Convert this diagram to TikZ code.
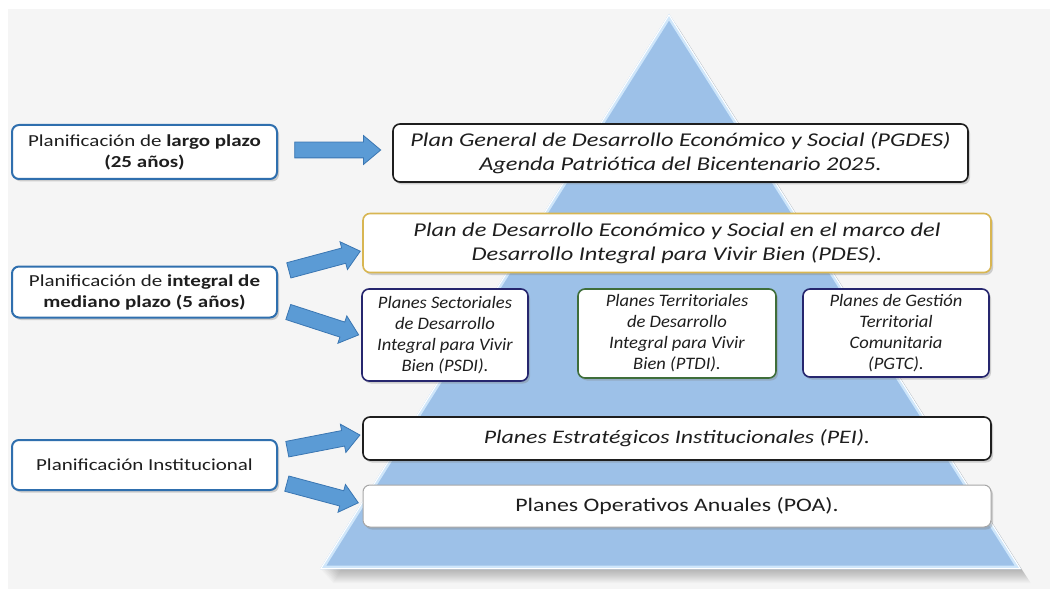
\documentclass[tikz,border=0pt]{standalone}
\usepackage{fontspec}
\setmainfont{Carlito}[FakeStretch=1.25]
\newfontfamily\smallfont{Carlito}[FakeStretch=1.06]
\usetikzlibrary{shapes.arrows,shadows,calc}
\definecolor{bg}{HTML}{F5F5F5}
\definecolor{tri}{HTML}{9DC1E8}
\definecolor{trilight}{HTML}{CFE6FA}
\definecolor{arrowfill}{HTML}{5B9BD5}
\definecolor{arrowline}{HTML}{3A76B2}
\definecolor{leftline}{HTML}{2F6FAE}
\definecolor{gold}{HTML}{D8B652}
\definecolor{navy}{HTML}{26266E}
\definecolor{grn}{HTML}{3F6E3A}
\definecolor{txt}{HTML}{1E1E1E}
\begin{document}
\begin{tikzpicture}[x=1pt,y=-1pt,
  box/.style={draw, rounded corners=7pt, fill=white, line width=1.6pt, align=center,
    inner sep=0pt, text=txt,
    drop shadow={shadow xshift=2pt, shadow yshift=-2.5pt, opacity=0.35}},
  leftbox/.style={box, draw=leftline, line width=2pt, minimum width=265pt,
    font=\fontsize{16.8}{21}\selectfont},
  bigbox/.style={box, font=\fontsize{19.5}{24}\selectfont\itshape},
  smallbox/.style={box, font=\smallfont\fontsize{17.5}{21}\selectfont\itshape},
  blockarrow/.style={single arrow, draw=arrowline, fill=arrowfill, line width=0.8pt,
    inner sep=7.5pt, single arrow head extend=6.5pt, single arrow tip angle=80,
    single arrow head indent=0pt}
]
\useasboundingbox (0,0) rectangle (1050,591);
\fill[white] (0,0) rectangle (1050,591);
\fill[bg] (8,9) rectangle (1050,589);

% pyramid shadow (soft)
\foreach \k in {1,...,14}
  \fill[black, opacity=0.018] (669+\k*0.7,14+\k) -- (1021+\k*0.7,569+\k) -- (320+\k*0.9,569+\k) -- cycle;
% pyramid
\fill[tri] (669,14) -- (1021,569) -- (320,569) -- cycle;
\begin{scope}
  \clip (669,14) -- (1021,569) -- (320,569) -- cycle;
  \draw[trilight, line width=7pt, line join=round] (669,14) -- (1021,569) -- (320,569) -- cycle;
  \draw[white, line width=2pt, line join=round] (669,14) -- (1021,569) -- (320,569) -- cycle;
\end{scope}

% left boxes
\node[leftbox, minimum height=54pt] (L1) at (144.5,152)
  {Planificación de \textbf{largo plazo}\\\textbf{(25 años)}};
\node[leftbox, minimum height=51pt] (L2) at (144.5,292)
  {Planificación de \textbf{integral de}\\\textbf{mediano plazo (5 años)}};
\node[leftbox, minimum height=50pt] (L3) at (144.5,465)
  {Planificación Institucional};

% right boxes
\node[bigbox, draw=txt, minimum width=575pt, minimum height=58pt] (PGDES) at (680.5,153)
  {Plan General de Desarrollo Económico y Social (PGDES)\\Agenda Patriótica del Bicentenario 2025.};
\node[bigbox, draw=gold, minimum width=628pt, minimum height=59pt] (PDES) at (677,243)
  {Plan de Desarrollo Económico y Social en el marco del\\Desarrollo Integral para Vivir Bien (PDES).};
\node[smallbox, draw=navy, minimum width=166pt, minimum height=92pt] (PSDI) at (445,335)
  {Planes Sectoriales\\de Desarrollo\\Integral para Vivir\\Bien (PSDI).};
\node[smallbox, draw=grn, minimum width=198pt, minimum height=89pt] (PTDI) at (677,333.5)
  {Planes Territoriales\\de Desarrollo\\Integral para Vivir\\Bien (PTDI).};
\node[smallbox, draw=navy, minimum width=186pt, minimum height=88pt] (PGTC) at (896,333)
  {Planes de Gestión\\Territorial\\Comunitaria\\(PGTC).};
\node[bigbox, draw=txt, minimum width=628pt, minimum height=43pt,
  font=\fontsize{19.1}{24}\selectfont\itshape] (PEI) at (677,438.5)
  {Planes Estratégicos Institucionales (PEI).};
\node[box, draw=gray!70, line width=1pt, minimum width=628pt, minimum height=42pt,
  font=\fontsize{19.1}{24}\selectfont] (POA) at (677,506)
  {Planes Operativos Anuales (POA).};

% block arrows (connectors)
\node[blockarrow, minimum height=86pt] (A1) at (333,150) {};
\node[blockarrow, minimum height=74pt, rotate=15] (A2) at (320,262) {};
\node[blockarrow, minimum height=74pt, rotate=-18] (A3) at (319,322) {};
\node[blockarrow, minimum height=74pt, rotate=11] (A4) at (319,443) {};
\node[blockarrow, minimum height=74pt, rotate=-15] (A5) at (318,492) {};
\end{tikzpicture}
\end{document}
